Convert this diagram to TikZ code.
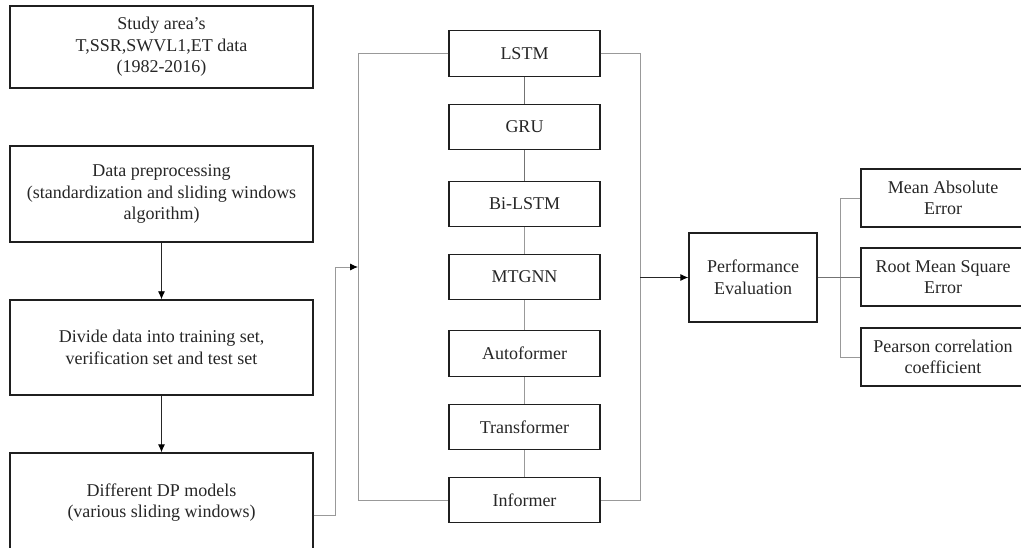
\documentclass[tikz,border=0pt]{standalone}
\usepackage{fontspec}
\setmainfont{Liberation Serif}
\usetikzlibrary{arrows.meta}
\begin{document}
\begin{tikzpicture}[x=1pt,y=-1pt,
  box/.style={draw=black!88,line width=1.4pt,inner sep=0pt,align=center,
    font=\fontsize{18}{21.5}\selectfont,text=black!85},
  gline/.style={draw=black!40,line width=0.9pt},
  mline/.style={draw=black!55,line width=0.9pt},
  arr/.style={draw=black!85,line width=0.9pt,-{Latex[length=8pt,width=7pt,color=black]}}]
\useasboundingbox (0,0) rectangle (1021,548);
% left column
\node[box,minimum width=303pt,minimum height=82pt] (b1) at (161.5,47) {Study area's\\T,SSR,SWVL1,ET data\\(1982-2016)};
\node[box,minimum width=303pt,minimum height=96pt] (b2) at (161.5,194) {Data preprocessing\\(standardization and sliding windows\\algorithm)};
\node[box,minimum width=303pt,minimum height=95pt] (b3) at (161.5,347.5) {Divide data into training set,\\verification set and test set};
\node[box,minimum width=303pt,minimum height=99pt] (b4) at (161.5,502.5) {Different DP models\\(various sliding windows)};
\draw[arr] (b2.south) -- (b3.north);
\draw[arr] (b3.south) -- (b4.north);
% model column
\foreach \n/\y/\t in {lstm/53.5/LSTM,gru/127/GRU,bilstm/204/Bi-LSTM,mtgnn/277/MTGNN,auto/353.5/Autoformer,trans/427/Transformer,inf/500/Informer}{
  \node[box,minimum width=151pt,minimum height=45.5pt] (\n) at (524.5,\y) {\t};
}
\draw[mline] (lstm.south) -- (gru.north);
\draw[mline] (gru.south) -- (bilstm.north);
\draw[gline] (bilstm.south) -- (mtgnn.north);
\draw[gline] (mtgnn.south) -- (auto.north);
\draw[gline] (auto.south) -- (trans.north);
\draw[gline] (trans.south) -- (inf.north);
% left bracket
\coordinate (lt) at (358,53.5);
\coordinate (lb) at (358,500);
\coordinate (lin) at (358,267);
\draw[gline] (lstm.west) -- (lt) -- (lb) -- (inf.west);
\draw[gline,-{Latex[length=8pt,width=7pt,color=black]}] ([yshift=-12.5pt]b4.east) -- ++(22,0) |- (lin);
% right bracket
\coordinate (rt) at (640,53.5);
\coordinate (rb) at (640,500);
\draw[gline] (lstm.east) -- (rt) -- (rb) -- (inf.east);
\node[box,minimum width=128pt,minimum height=89pt] (perf) at (753,277.5) {Performance\\Evaluation};
\draw[arr] (perf.west -| rt) -- (perf.west);
% metrics
\node[box,minimum width=164pt,minimum height=58pt] (mae) at (943,198) {Mean Absolute\\Error};
\node[box,minimum width=164pt,minimum height=58pt] (rmse) at (943,277) {Root Mean Square\\Error};
\node[box,minimum width=164pt,minimum height=58pt] (pcc) at (943,357) {Pearson correlation\\coefficient};
\coordinate (m) at (840,277.5);
\draw[mline] (perf.east) -- (m);
\draw[gline] (mae.west) -- (mae.west -| m) -- (pcc.west -| m) -- (pcc.west);
\draw[mline] (rmse.west) -- (rmse.west -| m);
\end{tikzpicture}
\end{document}
